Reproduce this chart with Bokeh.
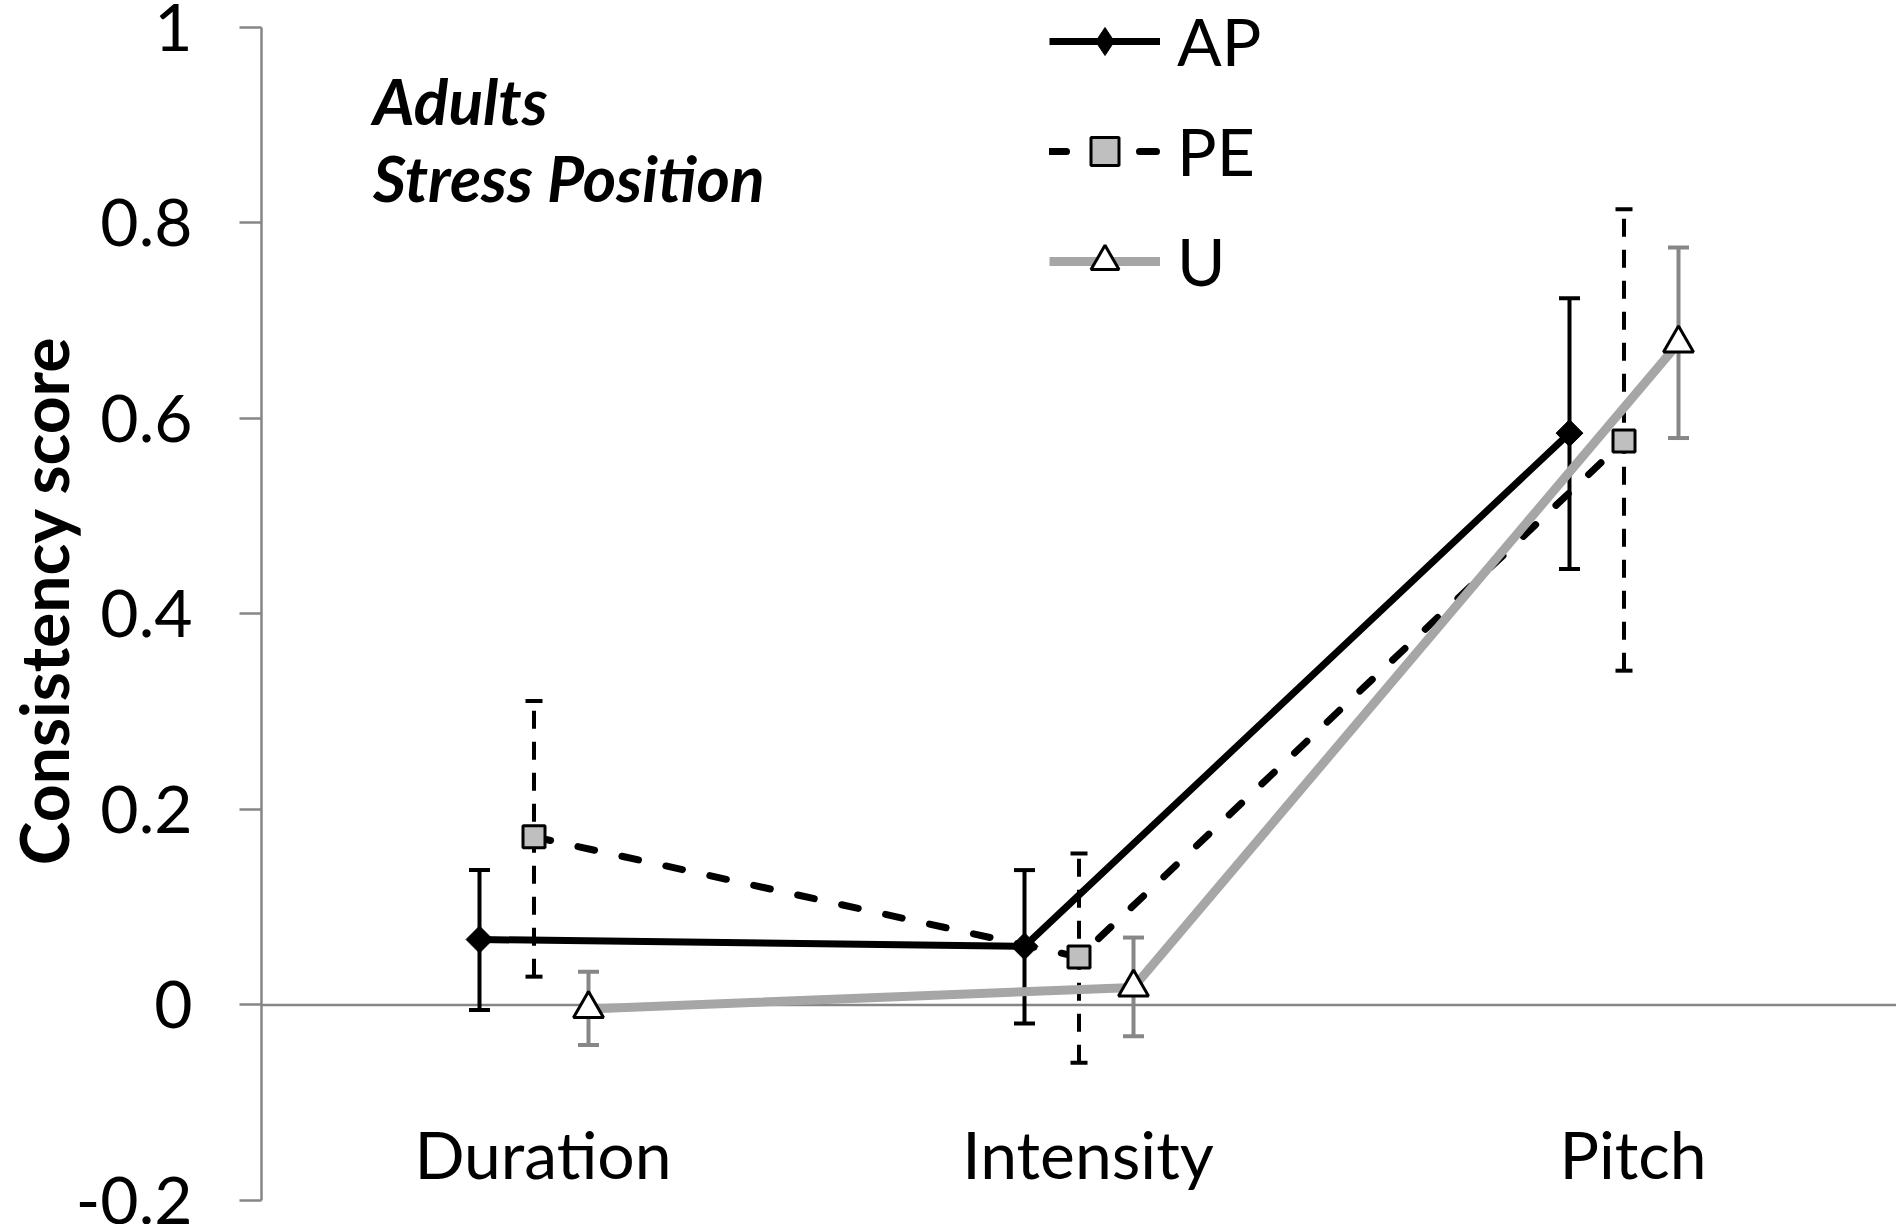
import math
from bokeh.plotting import figure
from bokeh.models import (FactorRange, Range1d, FixedTicker, Span, Label,
                          Legend, LegendItem, ColumnDataSource)
from bokeh.transform import dodge
from bokeh.core.properties import value
from bokeh.embed import file_html
from bokeh.resources import INLINE

# ---------------- data ----------------
categories = ["Duration", "Intensity", "Pitch"]
series_names = ["AP", "PE", "U"]

ap_mean = [0.067, 0.060, 0.585]
ap_low = [-0.005, -0.019, 0.446]
ap_high = [0.138, 0.138, 0.723]

pe_mean = [0.172, 0.049, 0.577]
pe_low = [0.029, -0.059, 0.342]
pe_high = [0.311, 0.155, 0.814]

u_mean = [-0.004, 0.018, 0.677]
u_low = [-0.041, -0.032, 0.580]
u_high = [0.034, 0.069, 0.775]

y_ticks = [-0.2, 0, 0.2, 0.4, 0.6, 0.8, 1]
y_tick_labels = ["-0.2", "0", "0.2", "0.4", "0.6", "0.8", "1"]
y_title = "Consistency score"
panel_lines = ["Adults", "Stress Position"]

# ---------------- figure ----------------
FONT = "Lato"
AXIS_GRAY = "#868686"

p = figure(width=1896, height=1224,
           x_range=FactorRange(factors=categories, range_padding=0),
           y_range=Range1d(-0.2, 1.0276),
           x_axis_location=None,
           output_backend="svg", toolbar_location=None,
           min_border_left=260, min_border_right=0,
           min_border_top=0, min_border_bottom=24)
p.xgrid.visible = False
p.ygrid.visible = False
p.outline_line_color = None
p.background_fill_color = "white"

yaxis = p.yaxis[0]
yaxis.ticker = FixedTicker(ticks=y_ticks)
yaxis.bounds = (y_ticks[0], y_ticks[-1])
yaxis.major_label_overrides = {t: s for t, s in zip(y_ticks, y_tick_labels)}
yaxis.axis_line_color = AXIS_GRAY
yaxis.axis_line_width = 2.5
yaxis.major_tick_line_color = AXIS_GRAY
yaxis.major_tick_line_width = 2.5
yaxis.major_tick_out = 22
yaxis.major_tick_in = 0
yaxis.minor_tick_line_color = None
yaxis.major_label_standoff = 47
yaxis.major_label_text_font = FONT
yaxis.major_label_text_font_size = "66px"
yaxis.major_label_text_color = "black"
yaxis.axis_label = y_title
yaxis.axis_label_text_font = FONT
yaxis.axis_label_text_font_style = "bold"
yaxis.axis_label_text_font_size = "66px"
yaxis.axis_label_text_color = "black"
yaxis.axis_label_standoff = -10

# zero line (horizontal axis)
p.add_layout(Span(location=0, dimension="width", line_color=AXIS_GRAY,
                  line_width=2.5, level="underlay"))

# category labels
cat_label_y = -0.152
p.text(x=categories, y=[cat_label_y] * len(categories), text=categories,
       text_font=value(FONT), text_font_size=value("66px"),
       text_color="black", text_align="center", text_baseline="alphabetic",
       x_offset=9)

src = ColumnDataSource(dict(cat=categories,
                            ap=ap_mean, ap_lo=ap_low, ap_hi=ap_high,
                            pe=pe_mean, pe_lo=pe_low, pe_hi=pe_high,
                            u=u_mean, u_lo=u_low, u_hi=u_high))

styles = {
    "AP": dict(key="ap", off=-0.1, color="black", lw=7, dash="solid", cap="butt",
               ecolor="black", edash="solid", capw=21,
               marker="square", msize=19, angle=math.pi / 4,
               mfill="black", mline="black", mlw=1, legend_marker="diamond"),
    "PE": dict(key="pe", off=0.0, color="black", lw=7, dash="17 28", cap="round",
               ecolor="black", edash="18 13", capw=17,
               marker="square", msize=22, angle=0,
               mfill="#BFBFBF", mline="black", mlw=3, legend_marker=None),
    "U": dict(key="u", off=0.1, color="#A6A6A6", lw=9, dash="solid", cap="butt",
              ecolor="#878787", edash="solid", capw=21,
              marker="triangle", msize=30, angle=0,
              mfill="white", mline="black", mlw=3, legend_marker=None),
}

items = []
for name in series_names:
    s = styles[name]
    k = s["key"]
    xd = dodge("cat", s["off"], range=p.x_range)
    # error bars
    p.segment(x0=xd, y0=k + "_lo", x1=xd, y1=k + "_hi", source=src,
              line_color=s["ecolor"], line_width=4, line_dash=s["edash"])
    for end in ("_lo", "_hi"):
        p.scatter(x=xd, y=k + end, source=src, marker="dash", size=s["capw"],
                  line_color=s["ecolor"], line_width=4)
    # line
    lr = p.line(x=xd, y=k, source=src, line_color=s["color"], line_width=s["lw"],
                line_dash=s["dash"], line_cap=s["cap"])
    key_r = None
    if s["legend_marker"]:
        # legend key shape (the legend does not rotate markers); it sits
        # hidden underneath the rotated marker drawn next
        key_r = p.scatter(x=xd, y=k, source=src, marker=s["legend_marker"],
                          size=10, fill_color=s["mfill"], line_color=s["mline"],
                          line_width=s["mlw"])
    # markers
    mr = p.scatter(x=xd, y=k, source=src, marker=s["marker"], size=s["msize"],
                   angle=s["angle"], fill_color=s["mfill"], line_color=s["mline"],
                   line_width=s["mlw"])
    items.append(LegendItem(label=name, renderers=[lr, key_r or mr]))

legend = Legend(items=items, location=(788, 900), orientation="vertical",
                glyph_width=111, glyph_height=70, label_height=70,
                label_standoff=17, spacing=31, padding=0, margin=0,
                border_line_color=None, background_fill_alpha=0,
                label_text_font=FONT, label_text_font_size="66px",
                label_text_color="black")
p.add_layout(legend)

# panel annotation
for txt, yy in zip(panel_lines, [0.9253, 0.8465]):
    p.add_layout(Label(x=0.2045, y=yy, x_units="data", y_units="data", text=txt,
                       text_font=FONT, text_font_style="bold italic",
                       text_font_size="64px", text_color="black",
                       text_align="left", text_baseline="alphabetic"))

open("out.html", "w").write(file_html(p, INLINE))
